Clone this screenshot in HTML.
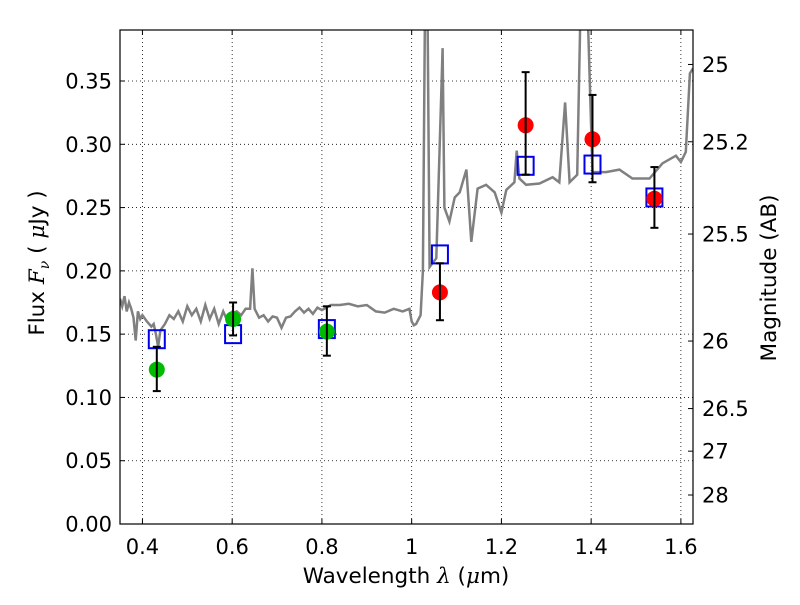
<!DOCTYPE html>
<html><head><meta charset="utf-8"><style>
body{margin:0;background:#fff;}
svg{font-family:"DejaVu Sans","Liberation Sans",sans-serif;}
</style></head><body>
<svg id="chart" width="800" height="600" xmlns="http://www.w3.org/2000/svg"></svg>
<script>
const specLam=[0.35,0.355,0.36,0.365,0.37,0.375,0.38,0.385,0.39,0.395,0.40,0.41,0.42,0.425,0.43,0.435,0.44,0.45,0.46,0.47,0.48,0.49,0.50,0.51,0.52,0.53,0.54,0.55,0.56,0.57,0.58,0.59,0.60,0.61,0.62,0.63,0.64,0.645,0.65,0.66,0.67,0.68,0.69,0.70,0.71,0.72,0.73,0.74,0.75,0.76,0.77,0.78,0.79,0.80,0.82,0.84,0.86,0.88,0.90,0.92,0.94,0.96,0.98,0.995,1.0,1.005,1.01,1.02,1.025,1.03,1.035,1.040,1.055,1.066,1.069,1.073,1.084,1.096,1.107,1.122,1.133,1.147,1.166,1.185,1.200,1.211,1.229,1.234,1.240,1.255,1.285,1.314,1.329,1.342,1.352,1.369,1.377,1.391,1.403,1.433,1.463,1.492,1.530,1.559,1.589,1.600,1.611,1.620,1.627];
const specFlux=[0.178,0.172,0.180,0.168,0.175,0.170,0.163,0.145,0.168,0.162,0.165,0.160,0.156,0.158,0.150,0.140,0.153,0.158,0.165,0.162,0.168,0.160,0.172,0.165,0.170,0.160,0.173,0.162,0.170,0.158,0.168,0.160,0.166,0.168,0.165,0.170,0.170,0.202,0.170,0.163,0.165,0.160,0.164,0.163,0.155,0.163,0.164,0.168,0.171,0.167,0.170,0.166,0.171,0.169,0.173,0.173,0.174,0.172,0.173,0.168,0.167,0.170,0.168,0.170,0.160,0.157,0.158,0.165,0.200,0.420,0.420,0.203,0.210,0.341,0.376,0.250,0.239,0.258,0.262,0.280,0.223,0.265,0.268,0.262,0.246,0.264,0.270,0.295,0.273,0.268,0.269,0.274,0.270,0.333,0.270,0.276,0.420,0.420,0.278,0.278,0.280,0.273,0.273,0.285,0.291,0.286,0.294,0.356,0.360];
const obsLam=[0.432,0.602,0.811,1.063,1.254,1.403,1.541];
const obsFlux=[0.122,0.162,0.152,0.183,0.315,0.304,0.257];
const obsLo=[0.105,0.149,0.133,0.161,0.276,0.270,0.234];
const obsHi=[0.140,0.175,0.172,0.206,0.357,0.339,0.282];
const obsColor=["#00bb00","#00bb00","#00bb00","#ff0000","#ff0000","#ff0000","#ff0000"];
const modelFlux=[0.146,0.150,0.154,0.213,0.283,0.284,0.258];
const xTicks=[0.4,0.6,0.8,1.0,1.2,1.4,1.6];
const xTickLabels=["0.4","0.6","0.8","1","1.2","1.4","1.6"];
const yTicks=[0,0.05,0.10,0.15,0.20,0.25,0.30,0.35];
const yTickLabels=["0.00","0.05","0.10","0.15","0.20","0.25","0.30","0.35"];
const magTicks=[25,25.2,25.5,26,26.5,27,28];
const magTickLabels=["25","25.2","25.5","26","26.5","27","28"];

const L=120,R=693,T=30,B=524,X0=0.35,X1=1.627,Y0=0,Y1=0.3903;
const sx=v=>L+(v-X0)/(X1-X0)*(R-L);
const sy=v=>B-(v-Y0)/(Y1-Y0)*(B-T);
const NS="http://www.w3.org/2000/svg";
const svg=document.getElementById('chart');
function mk(tag,attrs,parent){const e=document.createElementNS(NS,tag);for(const k in attrs)e.setAttribute(k,attrs[k]);(parent||svg).appendChild(e);return e;}

const defs=mk('defs',{});
const cp=mk('clipPath',{id:'clip'},defs);
mk('rect',{x:L,y:T,width:R-L,height:B-T},cp);

const grid=mk('g',{});


xTicks.forEach(v=>{mk('line',{x1:sx(v),x2:sx(v),y1:T,y2:B,stroke:'#000','stroke-width':0.8,'stroke-dasharray':'1,3'},grid);});
yTicks.forEach(v=>{mk('line',{x1:L,x2:R,y1:sy(v),y2:sy(v),stroke:'#000','stroke-width':0.8,'stroke-dasharray':'1,3'},grid);});

let d='';specLam.forEach((l,i)=>{d+=(i?'L':'M')+sx(l).toFixed(1)+','+sy(specFlux[i]).toFixed(1);});
const sp=mk('path',{d:d,fill:'none',stroke:'#808080','stroke-width':2.5,'clip-path':'url(#clip)'});



obsLam.forEach((l,i)=>{
  const r=mk('rect',{x:sx(l)-8,y:sy(modelFlux[i])-9,width:16,height:18,fill:'none',stroke:'#0000ee','stroke-width':2});
  
  
});
obsLam.forEach((l,i)=>{
  const g=mk('g',{});
  
  
  const x=sx(l);
  mk('circle',{cx:x,cy:sy(obsFlux[i]),r:8,fill:obsColor[i]},g);
  mk('line',{x1:x,x2:x,y1:sy(obsLo[i]),y2:sy(obsHi[i]),stroke:'#000','stroke-width':2},g);
  mk('line',{x1:x-4,x2:x+4,y1:sy(obsLo[i]),y2:sy(obsLo[i]),stroke:'#000','stroke-width':2},g);
  mk('line',{x1:x-4,x2:x+4,y1:sy(obsHi[i]),y2:sy(obsHi[i]),stroke:'#000','stroke-width':2},g);
});

const fr=mk('rect',{x:L,y:T,width:R-L,height:B-T,fill:'none',stroke:'#000','stroke-width':1.2});



xTicks.forEach((v,i)=>{
  mk('line',{x1:sx(v),x2:sx(v),y1:B,y2:B-5,stroke:'#000'});
  mk('line',{x1:sx(v),x2:sx(v),y1:T,y2:T+5,stroke:'#000'});
  const t=mk('text',{x:sx(v),y:B+30,'font-size':21,'text-anchor':'middle'});
  t.textContent=xTickLabels[i];
  
  
});
yTicks.forEach((v,i)=>{
  mk('line',{x1:L,x2:L+5,y1:sy(v),y2:sy(v),stroke:'#000'});
  const t=mk('text',{x:L-8,y:sy(v)+7.5,'font-size':21,'text-anchor':'end'});
  t.textContent=yTickLabels[i];
  
  
});
magTicks.forEach((m,i)=>{
  const y=sy(Math.pow(10,(23.9-m)/2.5));
  mk('line',{x1:R,x2:R-5,y1:y,y2:y,stroke:'#000'});
  const t=mk('text',{x:R+9,y:y+7.5,'font-size':21,'text-anchor':'start'});
  t.textContent=magTickLabels[i];
  
  
});

const xt=mk('text',{x:406,y:583,'font-size':21.5,'text-anchor':'middle'});
xt.innerHTML='Wavelength  <tspan font-style="italic" font-family="DejaVu Serif, serif">λ</tspan> (<tspan font-style="italic" font-family="DejaVu Serif, serif">μ</tspan>m)';


const yt=mk('text',{x:0,y:0,'font-size':21.5,'text-anchor':'middle',transform:'translate(44,263) rotate(-90)'});
yt.innerHTML='Flux  <tspan font-style="italic" font-family="DejaVu Serif, serif">F</tspan><tspan font-size="14" dy="5" font-style="italic" font-family="DejaVu Serif, serif">ν</tspan><tspan dy="-5">  ( </tspan><tspan font-style="italic" font-family="DejaVu Serif, serif">μ</tspan>Jy )';


const rt=mk('text',{x:0,y:0,'font-size':21.5,'text-anchor':'middle',transform:'translate(776,278) rotate(-90)'});
rt.textContent='Magnitude (AB)';


</script>
</body></html>
